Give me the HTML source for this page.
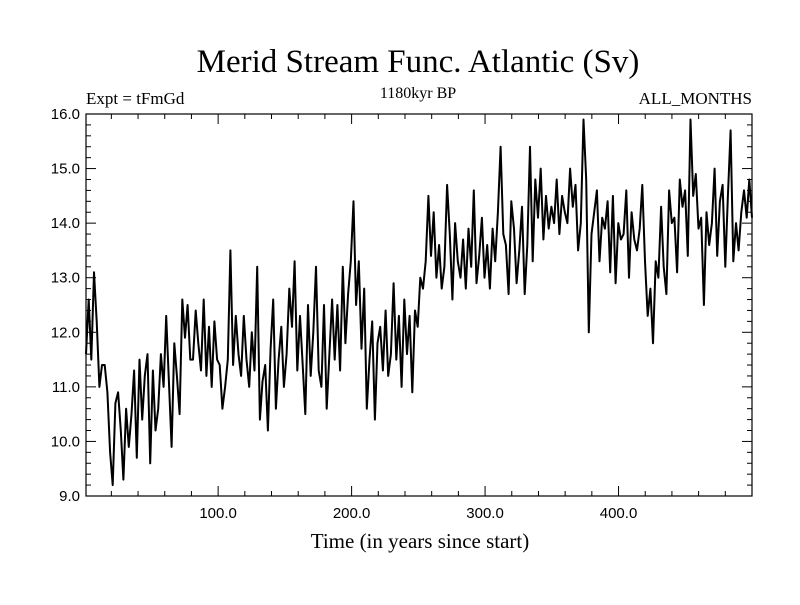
<!DOCTYPE html>
<html><head><meta charset="utf-8"><style>
body{margin:0;background:#fff}
svg text{font-family:"Liberation Serif",serif;fill:#000}
</style></head><body>
<svg id="chart" width="800" height="600">
<text x="418" y="72" font-size="33" text-anchor="middle">Merid Stream Func. Atlantic (Sv)</text>
<text x="86" y="104" font-size="17">Expt = tFmGd</text>
<text x="418" y="98" font-size="16" text-anchor="middle">1180kyr BP</text>
<text x="752" y="104" font-size="17" text-anchor="end">ALL_MONTHS</text>
<text x="420" y="548" font-size="21" text-anchor="middle">Time (in years since start)</text>
<g id="ticks"></g>
<rect x="86" y="114" width="666" height="382" fill="none" stroke="#000" stroke-width="1.2"/>
<path id="series" fill="none" stroke="#000" stroke-width="2" stroke-linejoin="round"/>
</svg>
<script>
const values=[11.6,12.6,11.5,13.1,12.2,11.0,11.4,11.4,10.9,9.8,9.2,10.7,10.9,10.2,9.3,10.6,9.9,10.5,11.3,9.7,
11.5,10.4,11.2,11.6,9.6,11.3,10.2,10.6,11.6,11.0,12.3,11.1,9.9,11.8,11.2,10.5,12.6,11.9,12.5,11.5,
11.5,12.4,11.8,11.3,12.6,11.2,12.1,11.0,12.2,11.5,11.4,10.6,11.0,11.5,13.5,11.4,12.3,11.6,11.2,12.3,
11.5,11.0,12.0,11.3,13.2,10.4,11.1,11.4,10.2,11.7,12.6,10.6,11.5,12.1,11.0,11.6,12.8,12.1,13.3,11.3,
12.3,11.4,10.5,12.5,11.2,12.0,13.2,11.3,11.0,12.5,10.6,11.6,12.6,11.5,12.5,11.3,13.2,11.8,12.7,13.3,
14.4,12.5,13.3,11.7,12.8,10.6,11.5,12.2,10.4,11.8,12.1,11.3,12.4,11.2,11.6,12.9,11.5,12.3,11.0,12.6,
11.6,12.3,10.9,12.4,12.1,13.0,12.8,13.3,14.5,13.4,14.2,13.0,13.6,12.8,13.2,14.7,13.8,12.6,14.0,13.3,
13.0,13.7,12.8,13.9,13.2,14.6,12.9,13.4,14.1,13.0,13.6,12.8,13.9,13.3,14.2,15.4,13.8,13.6,12.7,14.4,
13.9,12.9,13.5,14.3,12.7,13.6,15.4,13.3,14.8,14.1,15.0,13.7,14.5,13.9,14.3,14.0,14.8,13.8,14.5,14.2,
14.0,15.0,14.3,14.7,13.5,14.0,15.9,14.8,12.0,13.8,14.2,14.6,13.3,14.1,13.9,14.4,13.1,14.5,12.9,14.0,
13.7,13.8,14.6,13.0,14.2,13.7,13.5,13.9,14.7,13.3,12.3,12.8,11.8,13.3,13.0,14.3,13.2,12.7,14.6,14.0,
14.1,13.1,14.8,14.3,14.6,13.4,15.9,14.5,14.9,13.9,14.1,12.5,14.2,13.6,14.0,15.0,13.4,14.4,14.7,13.2,
14.5,15.7,13.3,14.0,13.5,14.2,14.6,14.1,14.8,14.1];
const yTicks=["9.0","10.0","11.0","12.0","13.0","14.0","15.0","16.0"];
const xTicks=["100.0","200.0","300.0","400.0"];
const X0=86,X1=752,Y0=496,Y1=114,T0=1,T1=500,V0=9,V1=16;
const sx=t=>X0+(t-T0)/(T1-T0)*(X1-X0);
const sy=v=>Y0-(v-V0)/(V1-V0)*(Y0-Y1);
const NS="http://www.w3.org/2000/svg";
const g=document.getElementById('ticks');
function line(x1,y1,x2,y2,name){const l=document.createElementNS(NS,'line');
l.setAttribute('x1',x1);l.setAttribute('y1',y1);l.setAttribute('x2',x2);l.setAttribute('y2',y2);
l.setAttribute('stroke','#000');l.setAttribute('stroke-width','1');


g.appendChild(l);}
function txt(x,y,s,anchor,name){const t=document.createElementNS(NS,'text');
t.setAttribute('x',x);t.setAttribute('y',y);t.setAttribute('font-size','15');t.setAttribute('text-anchor',anchor);
t.setAttribute('style','font-family:"Liberation Sans",sans-serif');t.textContent=s;


g.appendChild(t);}
for(let v=9;v<=16.001;v+=0.2){const y=sy(v);const maj=Math.abs(v-Math.round(v))<0.01;const L=maj?10:5;
line(X0,y,X0+L,y,'y-tick');line(X1,y,X1-L,y,'y-tick');}
yTicks.forEach(s=>txt(X0-6,sy(parseFloat(s))+5,s,'end','y-tick-label'));
for(let t=20;t<=500;t+=20){const x=sx(t);const maj=t%100===0;const L=maj?10:5;
line(x,Y0,x,Y0-L,'x-tick');line(x,Y1,x,Y1+L,'x-tick');}
xTicks.forEach(s=>txt(sx(parseFloat(s)),Y0+22,s,'middle','x-tick-label'));
let d='';values.forEach((v,i)=>{const t=T0+i*(T1-T0)/(values.length-1);d+=(i?'L':'M')+sx(t).toFixed(1)+','+sy(v).toFixed(1);});
document.getElementById('series').setAttribute('d',d);
</script>
</body></html>
